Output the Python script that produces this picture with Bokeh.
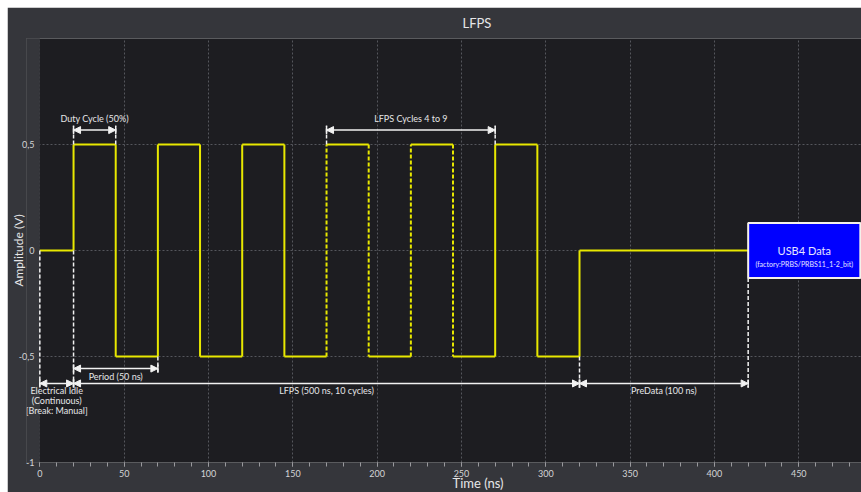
from bokeh.plotting import figure
from bokeh.models import (ColumnDataSource, Range1d, FixedTicker, SingleIntervalTicker,
                          Arrow, NormalHead, TeeHead, Title)
from bokeh.core.properties import value
from bokeh.embed import file_html
from bokeh.resources import INLINE

# ---- waveform: edge times (ns) and the level reached after each edge (V)
edge_times = [20, 45, 70, 95, 120, 145, 170, 195, 220, 245, 270, 295, 320]
edge_levels = [0.5, -0.5, 0.5, -0.5, 0.5, -0.5, 0.5, -0.5, 0.5, -0.5, 0.5, -0.5, 0.0]
edge_collapsed = [False, False, False, False, False, False,
                  True, True, True, True, False, False, False]
idle_level = 0.0

# ---- data block that follows the burst
data_start = 420
data_end = 486.5
data_half = 0.13
data_title = "USB4 Data"
data_sub = "(factory:PRBS/PRBS11_1-2_bit)"

# ---- timing spans (ns) with their labels
span_start = [20, 170, 20, 0, 20, 320]
span_end = [45, 270, 70, 20, 320, 420]
span_level = [0.568, 0.568, -0.557, -0.627, -0.627, -0.627]
span_text = ["Duty Cycle (50%)", "LFPS Cycles 4 to 9", "Period (50 ns)",
             "Electrical Idle\n(Continuous)\n[Break: Manual]",
             "LFPS (500 ns, 10 cycles)", "PreData (100 ns)"]
span_above = [True, True, False, False, False, False]

# ---- axes
x_ticks_step = 50
y_ticks = [-1, -0.5, 0, 0.5]
y_tick_text = {-1: "-1", -0.5: "-0,5", 0: "0", 0.5: "0,5"}

FONT = "Lato"
PANEL = "#35363b"
PLOT_BG = "#1d1d21"
YELLOW = "#e8e800"
WHITE = "#f2f2f2"
TEXT = "#e6e6e8"

X_MIN, X_MAX = -7.9, 487.2   # a few ns of padding left of t = 0 hold the idle label

p = figure(width=854, height=485, margin=(7, 0, 0, 7),
           output_backend="svg", toolbar_location=None,
           x_range=Range1d(X_MIN, X_MAX), y_range=Range1d(-1, 1),
           min_border_left=18, min_border_right=0,
           min_border_top=31, min_border_bottom=30)
p.background_fill_color = PLOT_BG
p.border_fill_color = PANEL
p.outline_line_color = None

# the strip before t = 0 belongs to the panel, not to the plotting area
p.quad(left=[X_MIN - 5], right=[0], bottom=[-1.5], top=[1.5],
       fill_color=PANEL, line_color=None)

# title
p.title = Title(text="LFPS", align="left", offset=436, vertical_align="top",
                standoff=12, text_color=TEXT, text_font=FONT,
                text_font_size="13px", text_font_style="normal")

# axes
p.xaxis.ticker = SingleIntervalTicker(interval=x_ticks_step, num_minor_ticks=5)
p.xaxis.axis_line_color = None
p.xaxis.major_tick_line_color = "#9a9a9e"
p.xaxis.minor_tick_line_color = "#9a9a9e"
p.xaxis.major_tick_out = 4
p.xaxis.major_tick_in = 0
p.xaxis.minor_tick_out = 4
p.xaxis.minor_tick_in = 0
p.xaxis.major_label_standoff = 3
p.yaxis.ticker = FixedTicker(ticks=y_ticks)
p.yaxis.major_label_overrides = y_tick_text
p.yaxis.axis_line_color = None
p.yaxis.major_tick_line_color = None
p.yaxis.minor_tick_line_color = None
p.yaxis.major_tick_out = 0
p.yaxis.major_tick_in = 0
p.yaxis.major_label_standoff = -8
p.yaxis.axis_label = "Amplitude (V)"
p.yaxis.axis_label_standoff = -10
p.yaxis.axis_label_text_font = FONT
p.yaxis.axis_label_text_font_size = "12px"
p.yaxis.axis_label_text_font_style = "normal"
p.yaxis.axis_label_text_color = TEXT
for ax in (p.xaxis, p.yaxis):
    ax.major_label_text_color = "#d4d4d6"
    ax.major_label_text_font = FONT
    ax.major_label_text_font_size = "9px"

p.add_layout(Title(text="Time (ns)", align="left", offset=426, vertical_align="top",
                   standoff=-10, text_color=TEXT, text_font=FONT,
                   text_font_size="13px", text_font_style="normal"), "below")

# grid
p.xgrid.ticker = SingleIntervalTicker(interval=x_ticks_step)
p.ygrid.ticker = FixedTicker(ticks=[-0.5, 0, 0.5])
for g in (p.xgrid, p.ygrid):
    g.grid_line_color = "#55565c"
    g.grid_line_dash = "2 2"
    g.grid_line_width = 1

# ---- waveform horizontal runs
run_x0 = [0] + edge_times
run_x1 = edge_times + [data_start]
run_y = [idle_level] + edge_levels
p.segment(x0=run_x0, y0=run_y, x1=run_x1, y1=run_y,
          line_color=YELLOW, line_width=2)

# ---- waveform edges (collapsed cycles drawn dashed)
prev_levels = [idle_level] + edge_levels[:-1]
solid = [i for i, c in enumerate(edge_collapsed) if not c]
dashed = [i for i, c in enumerate(edge_collapsed) if c]
p.segment(x0=[edge_times[i] for i in solid], y0=[prev_levels[i] for i in solid],
          x1=[edge_times[i] for i in solid], y1=[edge_levels[i] for i in solid],
          line_color=YELLOW, line_width=2)
p.segment(x0=[edge_times[i] for i in dashed], y0=[prev_levels[i] for i in dashed],
          x1=[edge_times[i] for i in dashed], y1=[edge_levels[i] for i in dashed],
          line_color=YELLOW, line_width=2, line_dash="4 2")


def level_before(t):
    if t >= data_start:
        return -data_half
    lvl = idle_level
    for et, el in zip(edge_times, edge_levels):
        if et < t:
            lvl = el
    return lvl


# ---- dashed guides from the waveform to each span end
guides = {}
for s, e, lv, up in zip(span_start, span_end, span_level, span_above):
    for t in (s, e):
        start = 0.5 if up else level_before(t)
        stop = lv + (0.022 if up else -0.02)
        key = (t, up)
        if key not in guides or abs(stop - start) > abs(guides[key][1] - guides[key][0]):
            guides[key] = (start, stop)
gx = [k[0] for k in guides]
p.segment(x0=gx, y0=[v[0] for v in guides.values()],
          x1=gx, y1=[v[1] for v in guides.values()],
          line_color=WHITE, line_width=1.5, line_dash="4 2")

# ---- span arrows
arrow_src = ColumnDataSource(dict(x0=span_start, x1=span_end, y=span_level))
p.add_layout(Arrow(source=arrow_src, x_start="x0", y_start="y", x_end="x1", y_end="y",
                   line_color=WHITE, line_width=1.5,
                   start=NormalHead(size=7, fill_color=WHITE, line_color=WHITE, line_width=1),
                   end=NormalHead(size=7, fill_color=WHITE, line_color=WHITE, line_width=1)))
p.add_layout(Arrow(source=arrow_src, x_start="x0", y_start="y", x_end="x1", y_end="y",
                   line_alpha=0,
                   start=TeeHead(size=8, line_color=WHITE, line_width=1.5),
                   end=TeeHead(size=8, line_color=WHITE, line_width=1.5)))

# ---- span labels
mid = [(s + e) / 2 for s, e in zip(span_start, span_end)]
up_i = [i for i, u in enumerate(span_above) if u]
dn_i = [i for i, u in enumerate(span_above) if not u]
p.text(x=[mid[i] for i in up_i], y=[span_level[i] for i in up_i],
       text=[span_text[i] for i in up_i], text_align="center", text_baseline="bottom",
       y_offset=-6, text_color=TEXT, text_font=value(FONT), text_font_size="9px")
p.text(x=[mid[i] for i in dn_i], y=[span_level[i] for i in dn_i],
       text=[span_text[i] for i in dn_i], text_align="center", text_baseline="top",
       y_offset=2, text_color=TEXT, text_font=value(FONT), text_font_size="9px",
       text_line_height=0.9)

# ---- data block
p.quad(left=[data_start], right=[data_end], top=[data_half], bottom=[-data_half],
       fill_color="#0000ff", line_color="#f4f0ea", line_width=2)
cx = (data_start + data_end) / 2
p.text(x=[cx], y=[0], text=[data_title], text_align="center", text_baseline="middle",
       text_color="#e6e6ff", text_font=value(FONT), text_font_size="11px")
p.text(x=[cx], y=[0], text=[data_sub], text_align="center", text_baseline="middle",
       y_offset=13, text_color="#e6e6ff", text_font=value(FONT), text_font_size="7px")

open("out.html", "w").write(file_html(p, INLINE))
